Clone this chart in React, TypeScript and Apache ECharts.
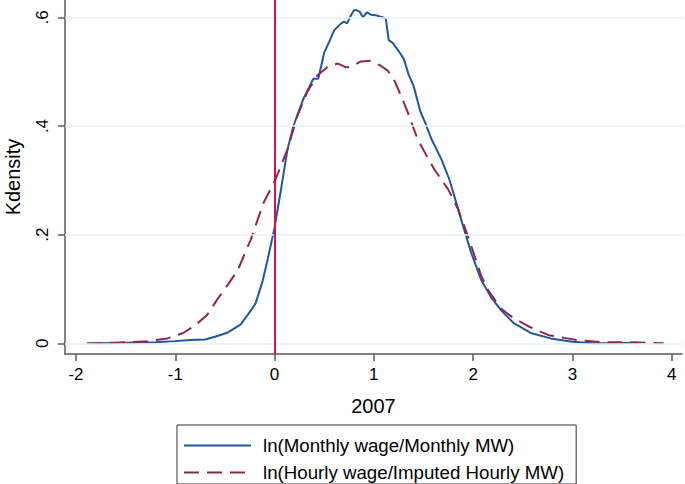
import React, { useEffect, useRef } from "react";
import * as echarts from "echarts";

const monthlyX = [-1.76, -1.5, -1.2, -1.0, -0.85, -0.7, -0.6, -0.47, -0.34, -0.24, -0.19, -0.12, -0.07, 0.0, 0.06, 0.13, 0.19, 0.29, 0.39, 0.44, 0.5, 0.55, 0.6, 0.67, 0.7, 0.73, 0.77, 0.8, 0.83, 0.86, 0.89, 0.93, 0.97, 1.02, 1.09, 1.12, 1.15, 1.19, 1.25, 1.3, 1.35, 1.4, 1.47, 1.52, 1.58, 1.68, 1.76, 1.83, 1.91, 1.98, 2.08, 2.18, 2.28, 2.41, 2.58, 2.78, 3.0, 3.2, 3.4, 3.67];
const monthlyY = [0.0, 0.001, 0.002, 0.004, 0.006, 0.007, 0.012, 0.02, 0.035, 0.06, 0.074, 0.115, 0.154, 0.213, 0.278, 0.357, 0.4, 0.45, 0.487, 0.487, 0.535, 0.555, 0.576, 0.589, 0.592, 0.589, 0.604, 0.613, 0.613, 0.61, 0.6, 0.609, 0.605, 0.604, 0.6, 0.598, 0.558, 0.553, 0.538, 0.524, 0.495, 0.474, 0.426, 0.405, 0.376, 0.339, 0.302, 0.259, 0.209, 0.167, 0.117, 0.085, 0.061, 0.037, 0.019, 0.009, 0.003, 0.0, 0.0, 0.001];

const hourlyX = [-1.89, -1.6, -1.28, -1.08, -0.92, -0.8, -0.68, -0.58, -0.47, -0.37, -0.24, -0.11, 0.01, 0.09, 0.13, 0.23, 0.33, 0.43, 0.55, 0.64, 0.72, 0.77, 0.87, 0.97, 1.07, 1.14, 1.2, 1.3, 1.34, 1.44, 1.55, 1.61, 1.75, 1.85, 1.95, 2.08, 2.15, 2.28, 2.41, 2.56, 2.76, 2.92, 3.05, 3.3, 3.6, 3.92];
const hourlyY = [0.0, 0.001, 0.004, 0.009, 0.019, 0.033, 0.052, 0.08, 0.108, 0.135, 0.191, 0.259, 0.302, 0.339, 0.357, 0.419, 0.463, 0.493, 0.511, 0.515, 0.508, 0.509, 0.519, 0.52, 0.511, 0.502, 0.487, 0.444, 0.426, 0.376, 0.339, 0.32, 0.283, 0.246, 0.196, 0.125, 0.098, 0.064, 0.046, 0.031, 0.015, 0.01, 0.006, 0.002, 0.002, 0.0];

const xTicks = [-2, -1, 0, 1, 2, 3, 4];
const yTicks = [0, 0.2, 0.4, 0.6];
const yTickLabels = ["0", ".2", ".4", ".6"];
const seriesNames = ["ln(Monthly wage/Monthly MW)", "ln(Hourly wage/Imputed Hourly MW)"];
const xTitle = "2007";
const yTitle = "Kdensity";
const refLineX = 0;

const FONT = "Liberation Sans, Arial, sans-serif";

export default function App() {
  const ref = useRef<HTMLDivElement>(null);
  useEffect(() => {
    const chart = echarts.init(ref.current!, undefined, { renderer: "svg" });
    const monthly = monthlyX.map((x, i) => [x, monthlyY[i]]);
    const hourly = hourlyX.map((x, i) => [x, hourlyY[i]]);
    const axisColor = "#5a5a5a";
    chart.setOption({
      animation: false,
      backgroundColor: "#ffffff",
      grid: { left: 65, right: 3, top: 0, bottom: 130, containLabel: false, outerBoundsMode: "none" },
      xAxis: {
        type: "value",
        min: -2.111,
        max: 4.104,
        name: xTitle,
        nameLocation: "middle",
        nameGap: 42,
        nameTextStyle: { fontFamily: FONT, fontSize: 20, color: "#000" },
        axisLine: { show: true, onZero: false, lineStyle: { color: axisColor, width: 1.5 } },
        axisTick: { show: true, length: 7, customValues: xTicks, lineStyle: { color: axisColor, width: 1.5 } },
        axisLabel: { customValues: xTicks, margin: 12, fontFamily: FONT, fontSize: 17, color: "#000" },
        splitLine: { show: false },
      },
      yAxis: {
        type: "value",
        min: -0.0197,
        max: 0.632,
        name: yTitle,
        nameLocation: "middle",
        nameGap: 42,
        nameTextStyle: { fontFamily: FONT, fontSize: 20, color: "#000" },
        axisLine: { show: true, onZero: false, lineStyle: { color: axisColor, width: 1.5 } },
        axisTick: { show: true, length: 7, customValues: yTicks, lineStyle: { color: axisColor, width: 1.5 } },
        axisLabel: {
          customValues: yTicks,
          rotate: 90,
          margin: 14,
          fontFamily: FONT,
          fontSize: 17,
          color: "#000",
          formatter: (v: number) => {
            const i = yTicks.findIndex((t) => Math.abs(t - v) < 1e-6);
            return i >= 0 ? yTickLabels[i] : "";
          },
        },
        splitLine: { show: false },
      },
      legend: {
        data: seriesNames,
        orient: "vertical",
        left: 177,
        top: 425,
        width: 420,
        itemWidth: 67,
        itemHeight: 14,
        itemGap: 6,
        padding: [10, 12, 1, 6],
        borderColor: "#333",
        borderWidth: 1,
        itemStyle: { opacity: 0, borderWidth: 0 },
        textStyle: { fontFamily: FONT, fontSize: 18.7, color: "#000", lineHeight: 21, padding: [0, 0, 0, 7] },
      },
      series: [
        {
          name: "grid",
          type: "line",
          data: [],
          z: 1,
          silent: true,
          markLine: {
            silent: true,
            symbol: "none",
            label: { show: false },
            lineStyle: { color: "#e4f2ee", width: 1.5, type: "solid" },
            data: yTicks.map((t) => ({ yAxis: t })),
          },
        },
        {
          name: seriesNames[0],
          type: "line",
          data: monthly,
          showSymbol: false,
          symbol: "none",
          z: 3,
          lineStyle: { color: "#1f57a0", width: 2 },
          itemStyle: { color: "#1f57a0" },
        },
        {
          name: seriesNames[1],
          type: "line",
          data: hourly,
          showSymbol: false,
          symbol: "none",
          z: 3,
          lineStyle: { color: "#922550", width: 2, type: [15, 8] },
          itemStyle: { color: "#922550" },
        },
        {
          name: "xline",
          type: "line",
          data: [],
          z: 4,
          silent: true,
          markLine: {
            silent: true,
            symbol: "none",
            label: { show: false },
            lineStyle: { color: "#d3104e", width: 2, type: "solid" },
            data: [{ xAxis: refLineX }],
          },
        },
      ],
    });
    return () => chart.dispose();
  }, []);
  return <div ref={ref} style={{ position: "fixed", left: 0, top: 0, width: 685, height: 484 }} />;
}
